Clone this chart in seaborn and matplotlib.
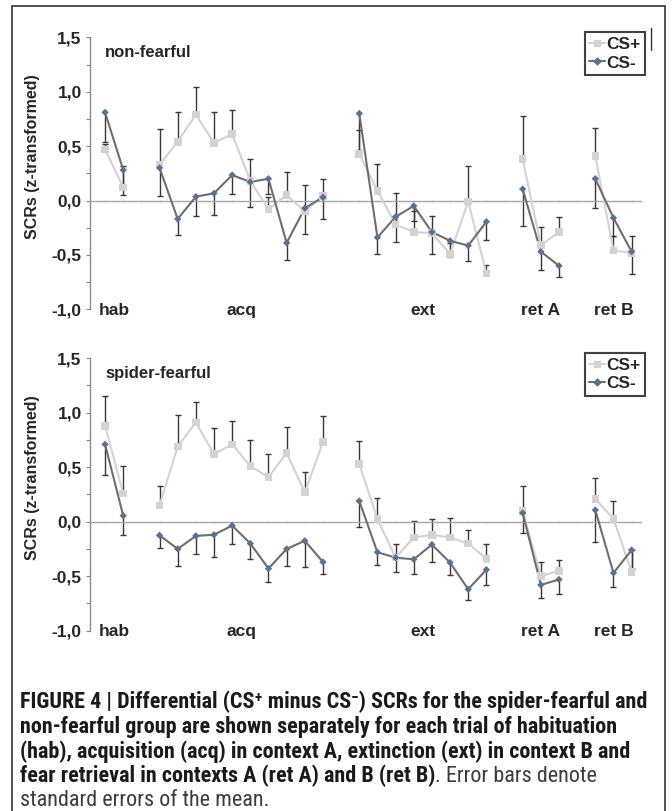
import numpy as np
import pandas as pd
import matplotlib
matplotlib.use('Agg')
import matplotlib.pyplot as plt
from matplotlib.lines import Line2D
from matplotlib.ticker import MultipleLocator, FuncFormatter
from matplotlib import font_manager
import seaborn as sns

# --- Data ---
phases = ['hab', 'acq', 'ext', 'ret A', 'ret B']
trials = [2, 10, 8, 3, 3]

# non-fearful group
nf_csp = [0.47, 0.12,
          0.33, 0.54, 0.79, 0.53, 0.61, 0.18, -0.08, 0.05, -0.10, 0.04,
          0.43, 0.09, -0.22, -0.29, -0.30, -0.49, -0.01, -0.67,
          0.38, -0.41, -0.29,
          0.41, -0.46, -0.48]
nf_csp_se = [0.05, 0.20,
             0.33, 0.27, 0.25, 0.28, 0.22, 0.20, 0.11, 0.21, 0.24, 0.16,
             0.22, 0.25, 0.29, 0.19, 0.16, 0.10, 0.33, 0.08,
             0.40, 0.17, 0.14,
             0.26, 0.13, 0.15]
nf_csm = [0.81, 0.28,
          0.30, -0.17, 0.035, 0.066, 0.234, 0.17, 0.20, -0.39, -0.07, 0.03,
          0.80, -0.34, -0.15, -0.05, -0.29, -0.37, -0.415, -0.195,
          0.105, -0.47, -0.60,
          0.20, -0.16, -0.47]
nf_csm_se = [0.27, 0.23,
             0.26, 0.15, 0.18, 0.20, 0.17, 0.23, 0.14, 0.16, 0.24, 0.20,
             0.34, 0.15, 0.23, 0.14, 0.20, 0.15, 0.145, 0.17,
             0.34, 0.17, 0.10,
             0.27, 0.17, 0.21]

# spider-fearful group
sf_csp = [0.88, 0.26,
          0.15, 0.69, 0.91, 0.62, 0.71, 0.51, 0.41, 0.63, 0.27, 0.73,
          0.53, 0.025, -0.33, -0.145, -0.12, -0.145, -0.20, -0.34,
          0.10, -0.50, -0.45,
          0.21, 0.025, -0.46]
sf_csp_se = [0.27, 0.25,
             0.18, 0.29, 0.19, 0.24, 0.21, 0.24, 0.21, 0.24, 0.19, 0.24,
             0.21, 0.19, 0.13, 0.155, 0.145, 0.18, 0.12, 0.14,
             0.23, 0.13, 0.10,
             0.19, 0.165, 0.20]
sf_csm = [0.71, 0.055,
          -0.125, -0.25, -0.13, -0.12, -0.035, -0.20, -0.43, -0.25, -0.175, -0.37,
          0.19, -0.28, -0.33, -0.345, -0.21, -0.375, -0.62, -0.44,
          0.08, -0.58, -0.53,
          0.107, -0.47, -0.26]
sf_csm_se = [0.28, 0.18,
             0.12, 0.16, 0.17, 0.20, 0.17, 0.145, 0.12, 0.16, 0.24, 0.11,
             0.24, 0.12, 0.13, 0.135, 0.16, 0.115, 0.095, 0.14,
             0.18, 0.12, 0.13,
             0.29, 0.13, 0.17]

# trial slots: one empty slot between phases
slots, phase_col = [], []
start = 0
for ph, n in zip(phases, trials):
    slots.extend(range(start, start + n))
    phase_col.extend([ph] * n)
    start += n + 1

CSP_COL = '#d3d3d3'
CSM_LINE = '#6e6e6e'
CSM_MARK = '#5a7291'
ERR_COL = '#383838'
PLOT_FONT = ['Liberation Sans', 'DejaVu Sans']

sns.set_theme(style='ticks')
plt.rcParams['font.family'] = PLOT_FONT


def make_df(csp, csp_se, csm, csm_se):
    a = pd.DataFrame({'slot': slots, 'value': csp, 'se': csp_se, 'cond': 'CS+', 'phase': phase_col})
    b = pd.DataFrame({'slot': slots, 'value': csm, 'se': csm_se, 'cond': 'CS-', 'phase': phase_col})
    return pd.concat([a, b], ignore_index=True)


def draw_panel(ax, title, df):
    p = df[df['cond'] == 'CS+']
    m = df[df['cond'] == 'CS-']
    # one-sided error bars: CS+ up, CS- down
    ax.vlines(p['slot'], p['value'], p['value'] + p['se'], color=ERR_COL, lw=1, zorder=2)
    ax.plot(p['slot'], p['value'] + p['se'], ls='none', marker='_', ms=5, mew=1, color=ERR_COL, zorder=2)
    ax.vlines(m['slot'], m['value'] - m['se'], m['value'], color=ERR_COL, lw=1, zorder=2)
    ax.plot(m['slot'], m['value'] - m['se'], ls='none', marker='_', ms=5, mew=1, color=ERR_COL, zorder=2)

    sns.lineplot(data=df, x='slot', y='value', hue='cond', units='phase', estimator=None,
                 palette={'CS+': CSP_COL, 'CS-': CSM_LINE}, linewidth=1.5,
                 legend=False, sort=False, ax=ax, zorder=3)
    sns.scatterplot(data=p, x='slot', y='value', marker='s', s=30, color=CSP_COL,
                    edgecolor='none', legend=False, ax=ax, zorder=4)
    sns.scatterplot(data=m, x='slot', y='value', marker='D', s=14, color=CSM_MARK,
                    edgecolor='none', legend=False, ax=ax, zorder=5)

    ax.set_xlim(-0.83, 29.5)
    ax.set_ylim(-1.0, 1.5)
    ax.spines['top'].set_visible(False)
    ax.spines['right'].set_visible(False)
    ax.spines['bottom'].set_position(('data', 0))
    ax.spines['bottom'].set_color('#a8a8a8')
    ax.spines['bottom'].set_linewidth(1)
    ax.spines['left'].set_color('#8a8a8a')
    ax.spines['left'].set_linewidth(1)

    ax.set_xticks(range(0, 30))
    ax.set_xticklabels([])
    ax.tick_params(axis='x', length=2, width=0.8, color='#b8b8b8', direction='inout')
    ax.yaxis.set_major_locator(MultipleLocator(0.5))
    ax.yaxis.set_minor_locator(MultipleLocator(0.25))
    ax.yaxis.set_major_formatter(FuncFormatter(lambda v, pos: f'{v:.1f}'.replace('.', ',')))
    ax.tick_params(axis='y', which='both', length=3, width=0.8, color='#8a8a8a', pad=3)
    for lab in ax.get_yticklabels():
        lab.set_fontweight('bold')
        lab.set_fontsize(12.5)
        lab.set_family(PLOT_FONT)

    ax.set_xlabel('')
    ax.set_ylabel('SCRs (z-transformed)', fontsize=11.5, fontweight='bold', family=PLOT_FONT)
    ax.yaxis.set_label_coords(-0.091, 0.56)

    ax.text(0, 1.315, title, ha='left', va='baseline', fontsize=12, fontweight='bold', family=PLOT_FONT)
    for ph in phases:
        xs = [s for s, q in zip(slots, phase_col) if q == ph]
        ax.text(np.mean(xs), -1.05, ph, ha='center', va='baseline', fontsize=12.5,
                fontweight='bold', family=PLOT_FONT)

    handles = [
        Line2D([], [], color=CSP_COL, lw=1.5, marker='s', ms=5, mfc=CSP_COL, mec=CSP_COL),
        Line2D([], [], color=CSM_LINE, lw=1.5, marker='D', ms=3.5, mfc=CSM_MARK, mec=CSM_MARK),
    ]
    leg = ax.legend(handles, ['CS+', 'CS-'], loc='upper right', bbox_to_anchor=(1.008, 1.018),
                    borderaxespad=0, frameon=True, fancybox=False, handlelength=0.9,
                    handletextpad=0.1, borderpad=0.25, labelspacing=0.2,
                    prop={'weight': 'bold', 'size': 12.5, 'family': PLOT_FONT})
    leg.get_frame().set_edgecolor('#111111')
    leg.get_frame().set_linewidth(1.5)


W, H = 672, 811
fig = plt.figure(figsize=(W / 100, H / 100), dpi=100)
fig.patch.set_facecolor('white')

ax_top = fig.add_axes([90 / W, 1 - 309.3 / H, 550.7 / W, 272 / H])
ax_bot = fig.add_axes([90 / W, 1 - 630.7 / H, 550.7 / W, 272.5 / H])

draw_panel(ax_top, 'non-fearful', make_df(nf_csp, nf_csp_se, nf_csm, nf_csm_se))
draw_panel(ax_bot, 'spider-fearful', make_df(sf_csp, sf_csp_se, sf_csm, sf_csm_se))

# outer frame and the small stray stroke next to the top legend
fig.add_artist(plt.Rectangle((12 / W, -0.01), (665 - 12) / W, 1 - 6 / H + 0.01, fill=False,
                             lw=1.2, ec='#333333', transform=fig.transFigure))
fig.add_artist(Line2D([651 / W, 651 / W], [1 - 28 / H, 1 - 50 / H], lw=1, color='#333333',
                      transform=fig.transFigure))

# caption: prefer a condensed face if one is installed
installed = {f.name for f in font_manager.fontManager.ttflist}
cap_font = [f for f in ['Roboto Condensed', 'Liberation Sans Narrow', 'Open Sans Condensed']
            if f in installed] + ['Liberation Sans', 'DejaVu Sans']
cap_lines = [
    [('FIGURE 4 | Differential (CS\u207a minus CS\u207b) SCRs for the spider-fearful and', True)],
    [('non-fearful group are shown separately for each trial of habituation', True)],
    [('(hab), acquisition (acq) in context A, extinction (ext) in context B and', True)],
    [('fear retrieval in contexts A (ret A) and B (ret B)', True), ('. Error bars denote', False)],
    [('standard errors of the mean.', False)],
]
cap_y = [702, 727, 752, 776, 800]

renderer = fig.canvas.get_renderer()
probe = fig.text(0, 0, cap_lines[0][0][0], fontsize=10, fontweight='bold', family=cap_font)
fs = 10 * 628 / probe.get_window_extent(renderer).width
probe.remove()

for segs, y in zip(cap_lines, cap_y):
    x = 20
    for txt, bold in segs:
        t = fig.text(x / W, 1 - y / H, txt, fontsize=fs, family=cap_font,
                     fontweight='bold' if bold else 'normal',
                     color='#1a1a1a' if bold else '#3c3c3c', va='center', ha='left')
        x += t.get_window_extent(renderer).width

fig.savefig('out.png', dpi=100)
